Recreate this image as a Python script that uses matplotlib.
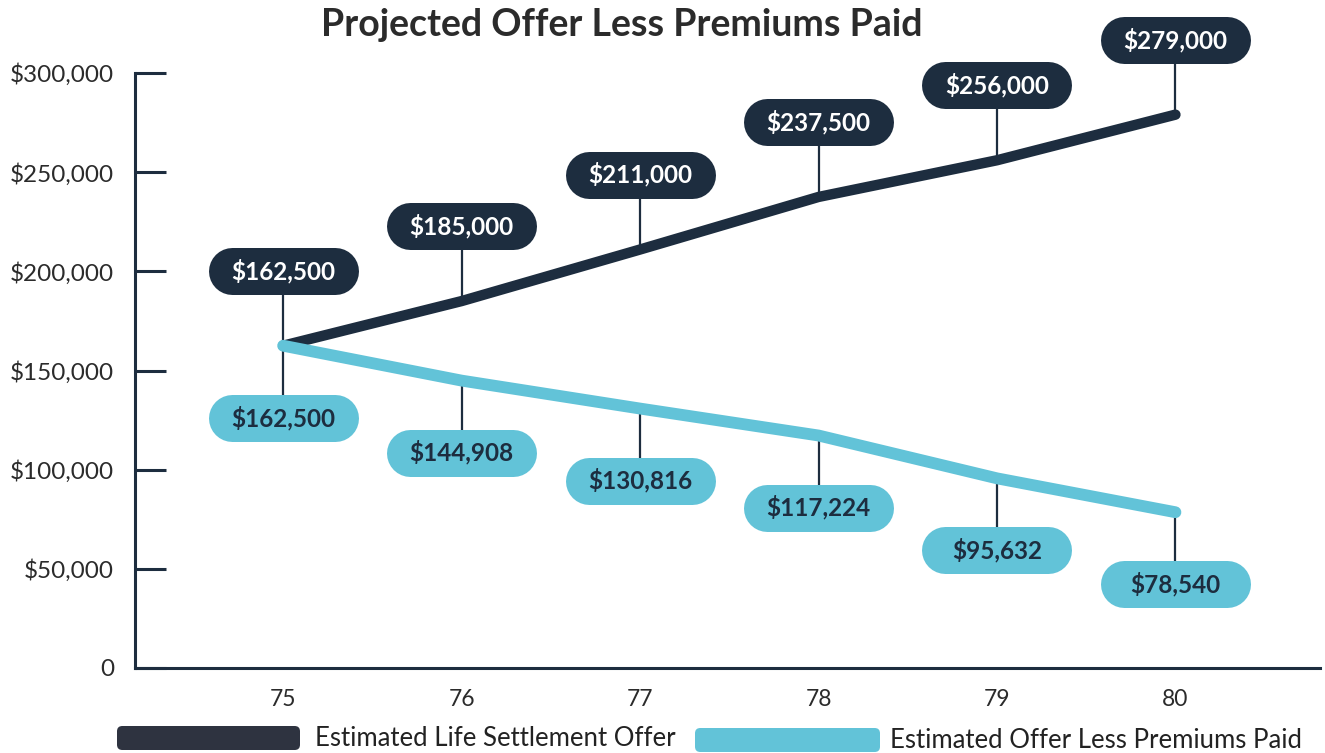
"""
plot.py

Projected offer vs. offer less premiums paid, ages 75-80.
Writes out.png (1325x753).
"""

import matplotlib

matplotlib.use("Agg")

import matplotlib.pyplot as plt
from matplotlib import transforms
from matplotlib.lines import Line2D
from matplotlib.patches import FancyBboxPatch

ages = [75, 76, 77, 78, 79, 80]
offer = [162500, 185000, 211000, 237500, 256000, 279000]
net_offer = [162500, 144908, 130816, 117224, 95632, 78540]
y_ticks = [0, 50000, 100000, 150000, 200000, 250000, 300000]
series_names = ["Estimated Life Settlement Offer", "Estimated Offer Less Premiums Paid"]
title = "Projected Offer Less Premiums Paid"

NAVY = "#1d2d3f"
CYAN = "#62c3d8"
LEGEND_DARK = "#2e3340"
TEXT = "#2b2b2b"

plt.rcParams["font.family"] = ["Lato", "DejaVu Sans"]

W, H = 1325, 753
fig = plt.figure(figsize=(W / 100, H / 100), dpi=100)
ax = fig.add_axes([135 / W, (H - 668) / H, (1320 - 135) / W, (668 - 73) / H])

ax.set_xlim(74.17, 80.81)
ax.set_ylim(0, 300000)

for s in ["top", "right"]:
    ax.spines[s].set_visible(False)
for s in ["left", "bottom"]:
    ax.spines[s].set_color(NAVY)
    ax.spines[s].set_linewidth(2.2)

ax.set_yticks(y_ticks)
ax.set_yticklabels(["0" if v == 0 else f"${v:,.0f}" for v in y_ticks])
ax.tick_params(axis="y", direction="in", length=22, width=2.2, color=NAVY,
               pad=15, labelsize=17.5, labelcolor=TEXT)
ax.set_xticks(ages)
ax.set_xticklabels([str(a) for a in ages])
ax.tick_params(axis="x", length=0, pad=15, labelsize=16.5, labelcolor=TEXT)

ax.plot(ages, offer, color=NAVY, lw=7.5, solid_capstyle="round",
        solid_joinstyle="round", zorder=3, clip_on=False)
ax.plot(ages, net_offer, color=CYAN, lw=8.5, solid_capstyle="round",
        solid_joinstyle="round", zorder=3, clip_on=False)

BOX_W, BOX_H = 1.50, 0.47  # inches


def pill(x, y, dy, text, face, text_color):
    # offsets in inches relative to the data point
    trans = fig.dpi_scale_trans + transforms.ScaledTranslation(x, y, ax.transData)
    ax.add_line(Line2D([0, 0], [0, dy], transform=trans, color=NAVY, lw=1.6,
                       zorder=2, clip_on=False))
    half = (BOX_W - BOX_H) / 2
    ax.add_line(Line2D([-half, half], [dy, dy], transform=trans, color=face,
                       lw=BOX_H * 72, solid_capstyle="round", zorder=4,
                       clip_on=False))
    ax.text(0, dy, text, transform=trans, ha="center", va="center",
            fontsize=17.5, fontweight="bold", color=text_color, zorder=5,
            clip_on=False)


for a, v in zip(ages, offer):
    pill(a, v, 0.75, f"${v:,.0f}", NAVY, "white")
for a, v in zip(ages, net_offer):
    pill(a, v, -0.72, f"${v:,.0f}", CYAN, NAVY)

fig.text(622 / W, 1 - 25 / H, title, ha="center", va="center", fontsize=27,
         fontweight="bold", color=TEXT)

# legend drawn by hand under the axis
legend_items = [(117, 300, 738, LEGEND_DARK, 315), (695, 880, 740, CYAN, 890)]
for (x0, x1, yc, col, tx), name in zip(legend_items, series_names):
    fig.add_artist(FancyBboxPatch((x0 / W, (H - yc - 12) / H), (x1 - x0) / W, 24 / H,
                                  boxstyle="round,pad=0,rounding_size=0.004",
                                  transform=fig.transFigure, facecolor=col,
                                  edgecolor="none", mutation_aspect=W / H))
    fig.text(tx / W, 1 - (yc + 1) / H, name, ha="left", va="center",
             fontsize=18.5, color="#222222")

fig.savefig("out.png", dpi=100)
plt.close(fig)
